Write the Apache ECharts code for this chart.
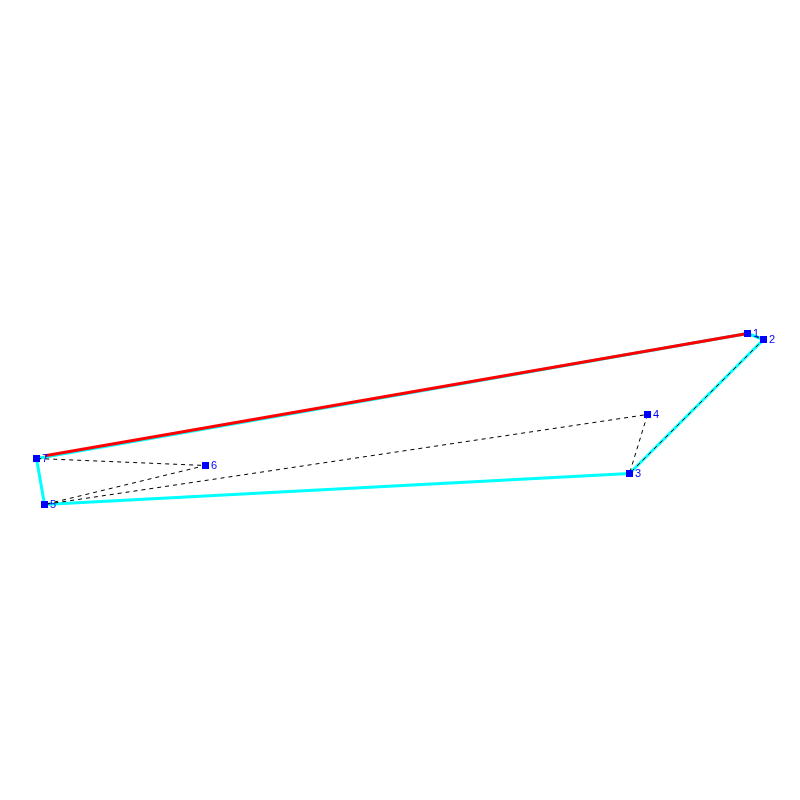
<!DOCTYPE html>
<html style="height: 100%">
<head>
<meta charset="utf-8">
</head>
<body style="height: 100%; margin: 0; background: #fff">
<div id="container" style="width: 800px; height: 800px"></div>
<script type="text/javascript" src="https://cdn.jsdelivr.net/npm/echarts@6/dist/echarts.min.js"></script>
<script type="text/javascript">
// points (y runs downward)
var pointLabels = ['1', '2', '3', '4', '5', '6', '7'];
var pointX = [747.5, 763.5, 629.5, 647.5, 44.5, 205.5, 36.5];
var pointY = [333.5, 339.5, 473.5, 414.5, 504.5, 465.5, 458.5];
// order the points are joined in
var hullOrder = [0, 1, 2, 4, 6, 0];
var pathOrder = [0, 1, 2, 3, 4, 5, 6];
// the red edge starts a little off point 7, so the cyan shows under it
var redX = [45, 747.5];
var redY = [455.8, 333.5];

function pick(order) {
    return order.map(function (i) {
        return [pointX[i], pointY[i]];
    });
}

var myChart = echarts.init(document.getElementById('container'));

var option = {
    backgroundColor: '#ffffff',
    animation: false,
    grid: { left: 0, right: 0, top: 0, bottom: 0 },
    xAxis: { type: 'value', min: 0, max: 800, show: false },
    yAxis: { type: 'value', min: 0, max: 800, inverse: true, show: false },
    series: [
        {
            type: 'line',
            data: pick(hullOrder),
            symbol: 'none',
            lineStyle: { color: '#00ffff', width: 3 },
            z: 2
        },
        {
            type: 'line',
            data: redX.map(function (x, i) { return [x, redY[i]]; }),
            symbol: 'none',
            lineStyle: { color: '#ff0000', width: 3 },
            z: 3
        },
        {
            type: 'line',
            data: pick(pathOrder),
            symbol: 'none',
            lineStyle: { color: '#000000', width: 1, type: [4, 4] },
            z: 4
        },
        {
            type: 'scatter',
            data: pick(pathOrder),
            symbol: 'rect',
            symbolSize: 7,
            itemStyle: { color: '#0000ff', opacity: 1 },
            label: {
                show: true,
                position: 'right',
                distance: 2,
                color: '#0000ff',
                fontFamily: 'Liberation Sans',
                fontSize: 11,
                formatter: function (p) {
                    return pointLabels[p.dataIndex];
                }
            },
            z: 5
        }
    ]
};
myChart.setOption(option, true);
</script>
</body>
</html>
